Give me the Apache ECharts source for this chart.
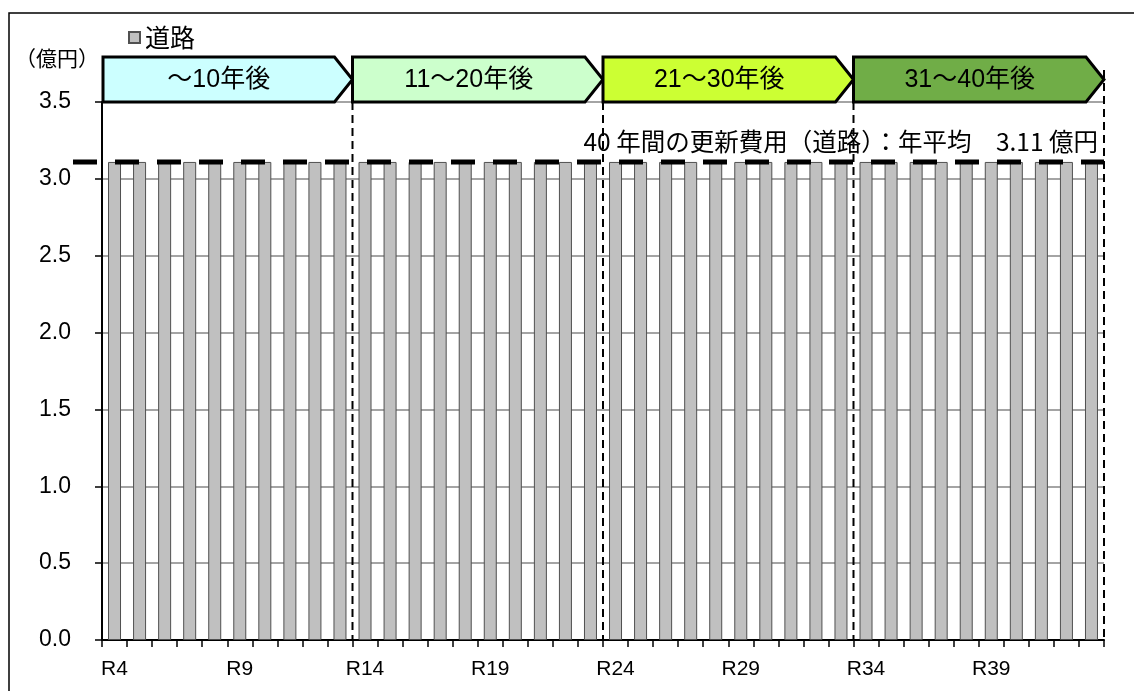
<!DOCTYPE html>
<html>
<head>
<meta charset="utf-8">
<script src="https://cdn.jsdelivr.net/npm/echarts@6/dist/echarts.min.js"></script>
<style>
  html, body { margin: 0; padding: 0; background: #fff; }
  #chart { width: 1134px; height: 691px; }
</style>
</head>
<body>
<div id="chart"></div>
<script>
// 年度 (R4 .. R43)
const years = [
  'R4', 'R5', 'R6', 'R7', 'R8', 'R9', 'R10', 'R11', 'R12', 'R13',
  'R14', 'R15', 'R16', 'R17', 'R18', 'R19', 'R20', 'R21', 'R22', 'R23',
  'R24', 'R25', 'R26', 'R27', 'R28', 'R29', 'R30', 'R31', 'R32', 'R33',
  'R34', 'R35', 'R36', 'R37', 'R38', 'R39', 'R40', 'R41', 'R42', 'R43'
]
// 道路の更新費用 (億円)
const roadCost = [
  3.11, 3.11, 3.11, 3.11, 3.11, 3.11, 3.11, 3.11, 3.11, 3.11,
  3.11, 3.11, 3.11, 3.11, 3.11, 3.11, 3.11, 3.11, 3.11, 3.11,
  3.11, 3.11, 3.11, 3.11, 3.11, 3.11, 3.11, 3.11, 3.11, 3.11,
  3.11, 3.11, 3.11, 3.11, 3.11, 3.11, 3.11, 3.11, 3.11, 3.11
]
const averageCost = 3.11
const averageText = '40 年間の更新費用（道路）：年平均　3.11 億円'
const unitText = '（億円）'
const periodLabels = ['～10年後', '11～20年後', '21～30年後', '31～40年後']
const periodBounds = [0, 10, 20, 30, 40]
const yMin = 0
const yMax = 3.5
const yStep = 0.5

const periodColors = ['#CCFFFF', '#CCFFCC', '#CCFF33', '#70AD47']
const jpFont = '"Noto Sans CJK JP", sans-serif'
const numFont = '"Liberation Sans", "Noto Sans CJK JP", sans-serif'

const chart = echarts.init(document.getElementById('chart'))

chart.setOption({
  animation: false,
  textStyle: { fontFamily: numFont, color: '#000' },
  grid: { left: 102, right: 30, top: 102, bottom: 51 },
  legend: {
    left: 123,
    top: 20,
    itemWidth: 11,
    itemHeight: 11,
    itemGap: 5,
    icon: 'rect',
    textStyle: { fontFamily: jpFont, fontSize: 25, color: '#000' },
    data: ['道路']
  },
  xAxis: [
    {
      type: 'category',
      data: years,
      axisLine: { lineStyle: { color: '#000', width: 2 } },
      axisTick: { show: true, interval: 0, length: 7, lineStyle: { color: '#000', width: 1.5 } },
      axisLabel: { interval: 4, fontSize: 21, margin: 19, color: '#000' },
      splitLine: { show: false }
    },
    {
      // 区間境界の位置計算用（非表示）
      type: 'value',
      min: 0,
      max: years.length,
      show: false
    }
  ],
  yAxis: {
    type: 'value',
    min: yMin,
    max: yMax,
    interval: yStep,
    axisLine: { show: true, lineStyle: { color: '#000', width: 2 } },
    axisTick: { show: true, length: 7, lineStyle: { color: '#000', width: 1.5 } },
    axisLabel: { fontSize: 23, margin: 31, color: '#000', formatter: v => v.toFixed(1) },
    splitLine: { lineStyle: { color: '#868686', width: 1.5 } }
  },
  series: [
    {
      name: '道路',
      type: 'bar',
      xAxisIndex: 0,
      data: roadCost,
      barWidth: 13,
      itemStyle: { color: '#C0C0C0', borderColor: '#505050', borderWidth: 1 }
    }
  ]
})

function drawOverlay () {
  const px = v => chart.convertToPixel({ xAxisIndex: 1 }, v)
  const py = v => chart.convertToPixel({ yAxisIndex: 0 }, v)
  const plotTop = py(yMax)
  const plotBottom = py(yMin)
  const arrowTop = plotTop - 45
  const arrowMid = (arrowTop + plotTop) / 2
  const notch = 18
  const graphics = []

  // 外枠
  graphics.push({
    type: 'polyline',
    shape: { points: [[9, 691], [9, 13], [1134, 13]] },
    style: { stroke: '#000', lineWidth: 1.5, fill: null },
    z: 1
  })

  // 単位
  graphics.push({
    type: 'text',
    x: px(0) - 3,
    y: arrowTop + 1,
    style: { text: unitText, fontFamily: jpFont, fontSize: 21, fill: '#000', align: 'right', verticalAlign: 'middle' },
    z: 10
  })

  // 区間の矢印
  periodLabels.forEach((label, i) => {
    const x0 = px(periodBounds[i]) + (i === 0 ? 1 : 0)
    const x1 = px(periodBounds[i + 1])
    graphics.push({
      type: 'polygon',
      shape: { points: [[x0, arrowTop], [x1 - notch, arrowTop], [x1, arrowMid], [x1 - notch, plotTop], [x0, plotTop]] },
      style: { fill: periodColors[i], stroke: '#000', lineWidth: 3, lineJoin: 'miter' },
      z: 20
    })
    graphics.push({
      type: 'text',
      x: (x0 + x1 - notch) / 2,
      y: arrowMid + 1,
      style: { text: label, fontFamily: numFont, fontSize: 25, fill: '#000', align: 'center', verticalAlign: 'middle' },
      z: 21
    })
  })

  // 区間境界の破線
  periodBounds.slice(1).forEach((b, i) => {
    const x = px(b)
    const last = i === periodBounds.length - 2
    graphics.push({
      type: 'line',
      shape: { x1: x, y1: last ? arrowTop + 13 : plotTop, x2: x, y2: plotBottom },
      style: { stroke: '#000', lineWidth: 2, lineDash: [8, 5] },
      z: 15
    })
  })

  // 年平均の破線
  const ya = py(averageCost)
  graphics.push({
    type: 'line',
    shape: { x1: 73, y1: ya, x2: px(periodBounds[periodBounds.length - 1]), y2: ya },
    style: { stroke: '#000', lineWidth: 5, lineDash: [24, 18] },
    z: 16
  })
  graphics.push({
    type: 'text',
    x: px(periodBounds[periodBounds.length - 1]) - 6,
    y: ya - 20,
    style: { text: averageText, fontFamily: jpFont, fontSize: 24.5, fill: '#000', align: 'right', verticalAlign: 'middle' },
    z: 14
  })

  chart.setOption({ graphic: graphics })
}

drawOverlay()
</script>
</body>
</html>
